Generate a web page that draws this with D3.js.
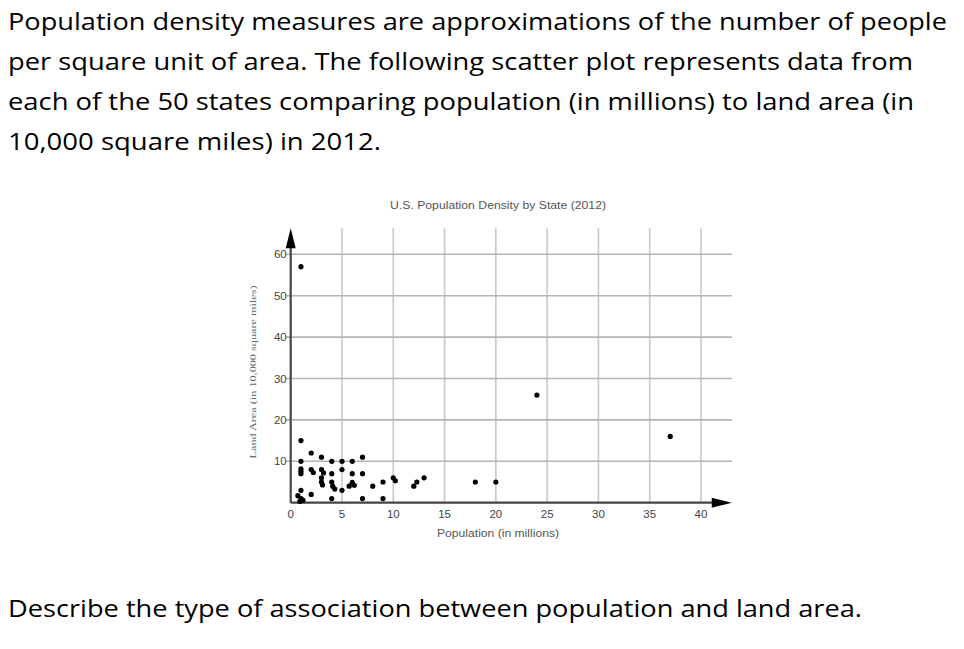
<!DOCTYPE html>
<html><head><meta charset="utf-8">
<script src="https://cdn.jsdelivr.net/npm/d3@7"></script>
<style>html,body{margin:0;padding:0;background:#fff;overflow:hidden}</style>
</head><body>
<svg id="c" width="964" height="649"></svg>
<script>
const introLines = [
  "Population density measures are approximations of the number of people",
  "per square unit of area. The following scatter plot represents data from",
  "each of the 50 states comparing population (in millions) to land area (in",
  "10,000 square miles) in 2012."
];
const questionText = "Describe the type of association between population and land area.";
const chartTitle = "U.S. Population Density by State (2012)";
const xLabel = "Population (in millions)";
const yLabel = "Land Area (in 10,000 square miles)";
const xTicks = [0,5,10,15,20,25,30,35,40];
const yTicks = [10,20,30,40,50,60];
// population (millions)
const population = [1,1,1,1,1,1,1,2,2,2.2,2,3,3,3.2,3,3,3.1,4,4,4,4.1,4.3,4,5,5,5,6,6,5.7,6,6.2,7,7,7,8,9,9,10,10.2,12,12.3,13,18,20,24,37,0.7,1,1.2,0.9];
// land area (10,000 sq mi)
const landArea = [57,15,10,8.2,7.6,7,3,12,8,7.3,2,11,8,7.2,6,5,4.3,10,7,5,4,3.3,1,10,8,3,10,7,4,4.9,4.2,11,7,1,4,5,1,6,5.3,4,5,6,5,5,26,16,1.7,1,0.6,0.3];

const svg = d3.select("#c");
const lineW = [939, 905, 906, 373];
introLines.forEach((t,i)=>{
  svg.append("text").attr("x",8).attr("y",30+i*40)
    .attr("font-family","'Open Sans', sans-serif").attr("font-size",23.5)
    .attr("fill","#000").attr("textLength",lineW[i]).attr("lengthAdjust","spacingAndGlyphs").text(t);
});
svg.append("text").attr("x",8).attr("y",617)
  .attr("font-family","'Open Sans', sans-serif").attr("font-size",23.5)
  .attr("fill","#000").attr("textLength",854).attr("lengthAdjust","spacingAndGlyphs").text(questionText);

const x = d3.scaleLinear().domain([0,40]).range([290.7,701]);
const y = d3.scaleLinear().domain([0,60]).range([502.7,254.3]);
const xMax = 43, yMax = 66.3;

const g = svg.append("g");
// grid
g.selectAll(".vg").data(xTicks.filter(d=>d>0)).join("line")
  .attr("x1",d=>x(d)).attr("x2",d=>x(d)).attr("y1",y(0)).attr("y2",y(yMax))
  .attr("stroke","#c8c8c8").attr("stroke-width",1.6);
g.selectAll(".hg").data(yTicks).join("line")
  .attr("x1",x(0)-5).attr("x2",x(xMax)).attr("y1",d=>y(d)).attr("y2",d=>y(d))
  .attr("stroke","#b4b4b4").attr("stroke-width",1.6);
// axes
g.append("line").attr("x1",x(0)).attr("x2",x(xMax)-12).attr("y1",y(0)).attr("y2",y(0))
  .attr("stroke","#444").attr("stroke-width",2.2);
g.append("line").attr("x1",x(0)).attr("x2",x(0)).attr("y1",y(0)).attr("y2",y(yMax)+12)
  .attr("stroke","#444").attr("stroke-width",2.2);
const ax = x(xMax), ay = y(0);
g.append("path").attr("d",`M${ax},${ay} L${ax-20},${ay-5} L${ax-20},${ay+5} Z`).attr("fill","#000");
const bx = x(0), by = y(yMax);
g.append("path").attr("d",`M${bx},${by} L${bx-5},${by+20} L${bx+5},${by+20} Z`).attr("fill","#000");

// tick labels
g.selectAll(".xt").data(xTicks).join("text")
  .attr("x",d=>x(d)).attr("y",y(0)+15).attr("text-anchor","middle")
  .attr("font-family","'Liberation Sans', Arial, sans-serif").attr("font-size",11.5).attr("fill","#444").text(d=>d);
g.selectAll(".yt").data(yTicks).join("text")
  .attr("x",x(0)-4).attr("y",d=>y(d)+4).attr("text-anchor","end")
  .attr("font-family","'Liberation Sans', Arial, sans-serif").attr("font-size",11.5).attr("fill","#444").text(d=>d);

// titles
svg.append("text").attr("x",498).attr("y",209).attr("text-anchor","middle")
  .attr("font-family","'Liberation Sans', Arial, sans-serif").attr("font-size",10).attr("fill","#555")
  .attr("textLength",216).attr("lengthAdjust","spacingAndGlyphs").text(chartTitle);
svg.append("text").attr("x",498).attr("y",537).attr("text-anchor","middle")
  .attr("font-family","'Liberation Sans', Arial, sans-serif").attr("font-size",10).attr("fill","#555")
  .attr("textLength",122).attr("lengthAdjust","spacingAndGlyphs").text(xLabel);
svg.append("text").attr("transform","translate(256,372) rotate(-90)").attr("text-anchor","middle")
  .attr("font-family","'Liberation Serif', 'Times New Roman', serif").attr("font-size",8.5).attr("fill","#666")
  .attr("textLength",173).attr("lengthAdjust","spacingAndGlyphs").text(yLabel);

// points
g.selectAll(".pt").data(population.map((p,i)=>[p,landArea[i]])).join("circle")
  .attr("cx",d=>x(d[0])).attr("cy",d=>y(d[1])).attr("r",2.6).attr("fill","#000");
</script>
</body></html>
